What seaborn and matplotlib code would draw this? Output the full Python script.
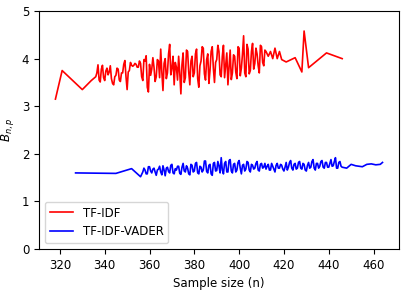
import pandas as pd
import matplotlib
matplotlib.use("Agg")
import matplotlib.pyplot as plt
import seaborn as sns

# TF-IDF series
tfidf_n = [318, 321, 330, 334,
           336, 336.5, 337, 337.5, 338, 338.5, 339, 339.5, 340, 340.5,
           341, 341.5, 342, 342.5, 343, 343.5, 344, 344.5, 345, 345.5,
           346, 346.5, 347, 347.5, 348, 348.5, 349, 349.5, 350, 350.5,
           351, 351.5, 352, 352.5, 353, 353.5, 354, 354.5, 355, 355.5,
           356, 356.5, 357, 357.5, 358, 358.5, 359, 359.5, 360, 360.5,
           361, 361.5, 362, 362.5, 363, 363.5, 364, 364.5, 365, 365.5,
           366, 366.5, 367, 367.5, 368, 368.5, 369, 369.5, 370, 370.5,
           371, 371.5, 372, 372.5, 373, 373.5, 374, 374.5, 375, 375.5,
           376, 376.5, 377, 377.5, 378, 378.5, 379, 379.5, 380, 380.5,
           381, 381.5, 382, 382.5, 383, 383.5, 384, 384.5, 385, 385.5,
           386, 386.5, 387, 387.5, 388, 388.5, 389, 389.5, 390, 390.5,
           391, 391.5, 392, 392.5, 393, 393.5, 394, 394.5, 395, 395.5,
           396, 396.5, 397, 397.5, 398, 398.5, 399, 399.5, 400, 400.5,
           401, 401.5, 402, 402.5, 403, 403.5, 404, 404.5, 405, 405.5,
           406, 406.5, 407, 407.5, 408, 408.5, 409, 409.5, 410, 410.5,
           411, 411.5, 412,
           413, 414, 415, 416, 417, 418, 419, 421, 425, 428, 429, 431, 439, 446]
tfidf_b = [3.15, 3.75, 3.35, 3.54,
           3.62, 3.70, 3.87, 3.55, 3.51, 3.78, 3.86, 3.60, 3.54, 3.74,
           3.80, 3.66, 3.72, 3.85, 3.58, 3.48, 3.45, 3.62, 3.65, 3.80,
           3.78, 3.55, 3.52, 3.70, 3.70, 3.88, 3.96, 3.62, 3.35, 3.72,
           3.75, 3.92, 3.86, 3.84, 3.86, 3.90, 3.88, 3.82, 3.82, 3.95,
           3.90, 3.62, 3.54, 3.98, 3.95, 4.06, 3.40, 3.30, 3.88, 3.65,
           3.78, 4.02, 3.82, 3.52, 3.62, 3.98, 3.95, 3.60, 4.20, 3.72,
           3.33, 3.90, 4.00, 3.58, 3.70, 4.10, 4.30, 3.66, 3.80, 4.05,
           3.45, 3.92, 3.82, 3.55, 4.05, 3.70, 3.26, 3.88, 4.12, 3.50,
           3.60, 4.18, 4.15, 3.72, 3.45, 3.95, 4.05, 3.62, 3.70, 4.10,
           4.20, 3.58, 3.40, 3.85, 3.95, 4.25, 4.22, 3.68, 3.55, 3.98,
           4.10, 3.48, 3.75, 4.15, 4.25, 3.80, 3.50, 3.92, 3.98, 4.28,
           4.15, 3.66, 3.62, 4.05, 4.28, 3.60, 3.85, 4.12, 3.45, 3.82,
           4.18, 3.56, 3.70, 4.08, 4.05, 3.72, 3.58, 4.25, 4.22, 3.64,
           3.80, 4.10, 4.48, 3.70, 3.62, 4.30, 4.20, 3.68, 3.75, 4.15,
           4.32, 3.78, 3.90, 4.22, 4.10, 3.85, 3.70, 4.28, 4.25, 3.92,
           3.85, 4.18, 4.15,
           4.05, 4.15, 4.00, 4.22, 4.00, 4.15, 3.98, 3.93, 4.02, 3.72, 4.58, 3.81, 4.12, 4.00]

# TF-IDF-VADER series
vader_n = [327, 345, 352, 356,
           357, 357.5, 358, 358.5, 359, 359.5, 360, 360.5, 361, 361.5,
           362, 362.5, 363, 363.5, 364, 364.5, 365, 365.5, 366, 366.5,
           367, 367.5, 368, 368.5, 369, 369.5, 370, 370.5, 371, 371.5,
           372, 372.5, 373, 373.5, 374, 374.5, 375, 375.5, 376, 376.5,
           377, 377.5, 378, 378.5, 379, 379.5, 380, 380.5, 381, 381.5,
           382, 382.5, 383, 383.5, 384, 384.5, 385, 385.5, 386, 386.5,
           387, 387.5, 388, 388.5, 389, 389.5, 390, 390.5, 391, 391.5,
           392, 392.5, 393, 393.5, 394, 394.5, 395, 395.5, 396, 396.5,
           397, 397.5, 398, 398.5, 399, 399.5, 400, 400.5, 401, 401.5,
           402, 402.5, 403, 403.5, 404, 404.5, 405, 405.5, 406, 406.5,
           407, 407.5, 408, 408.5, 409, 409.5, 410, 410.5, 411, 411.5,
           412, 412.5, 413, 413.5, 414, 414.5, 415, 415.5, 416, 416.5,
           417, 417.5, 418, 418.5, 419, 419.5, 420, 420.5, 421, 421.5,
           422, 422.5, 423, 423.5, 424, 424.5, 425, 425.5, 426, 426.5,
           427, 427.5, 428, 428.5, 429, 429.5, 430, 430.5, 431, 431.5,
           432, 432.5, 433, 433.5, 434, 434.5, 435, 435.5, 436, 436.5,
           437, 437.5, 438, 438.5, 439, 439.5, 440, 440.5, 441, 441.5,
           442, 442.5, 443, 443.5, 444, 444.5, 445, 445.5, 446,
           448, 450, 452, 455, 457, 459, 461, 463, 464]
vader_b = [1.60, 1.59, 1.69, 1.52,
           1.62, 1.70, 1.66, 1.58, 1.58, 1.73, 1.73, 1.64, 1.60, 1.68,
           1.70, 1.62, 1.55, 1.66, 1.68, 1.74, 1.62, 1.56, 1.75, 1.66,
           1.54, 1.70, 1.72, 1.63, 1.60, 1.76, 1.78, 1.60, 1.58, 1.69,
           1.66, 1.74, 1.74, 1.59, 1.57, 1.72, 1.80, 1.64, 1.62, 1.75,
           1.70, 1.58, 1.56, 1.78, 1.76, 1.62, 1.64, 1.80, 1.82, 1.60,
           1.58, 1.74, 1.72, 1.62, 1.66, 1.85, 1.85, 1.63, 1.60, 1.76,
           1.78, 1.58, 1.55, 1.80, 1.82, 1.64, 1.65, 1.84, 1.75, 1.60,
           1.92, 1.66, 1.58, 1.80, 1.84, 1.62, 1.62, 1.86, 1.88, 1.64,
           1.60, 1.78, 1.80, 1.62, 1.66, 1.82, 1.86, 1.70, 1.58, 1.76,
           1.78, 1.64, 1.68, 1.84, 1.82, 1.66, 1.62, 1.78, 1.76, 1.68,
           1.70, 1.80, 1.84, 1.66, 1.64, 1.78, 1.80, 1.70, 1.72, 1.80,
           1.68, 1.74, 1.78, 1.66, 1.66, 1.80, 1.74, 1.68, 1.62, 1.76,
           1.80, 1.70, 1.70, 1.78, 1.76, 1.68, 1.64, 1.72, 1.82, 1.66,
           1.72, 1.82, 1.86, 1.70, 1.66, 1.78, 1.80, 1.68, 1.70, 1.82,
           1.84, 1.70, 1.68, 1.80, 1.78, 1.66, 1.64, 1.76, 1.82, 1.70,
           1.72, 1.84, 1.88, 1.70, 1.66, 1.80, 1.80, 1.70, 1.74, 1.84,
           1.86, 1.72, 1.70, 1.82, 1.82, 1.72, 1.72, 1.80, 1.88, 1.74,
           1.75, 1.84, 1.92, 1.70, 1.70, 1.82, 1.84, 1.74, 1.72,
           1.70, 1.78, 1.75, 1.73, 1.78, 1.79, 1.77, 1.78, 1.82]

df_tfidf = pd.DataFrame({"n": tfidf_n, "B": tfidf_b})
df_vader = pd.DataFrame({"n": vader_n, "B": vader_b})

plt.rcParams["font.size"] = 8.5
fig, ax = plt.subplots(figsize=(4.07, 2.9), dpi=100)
fig.subplots_adjust(left=0.096, right=0.98, top=0.962, bottom=0.141)

sns.lineplot(x="n", y="B", data=df_tfidf, color="red", label="TF-IDF",
             estimator=None, sort=False, linewidth=1.2, ax=ax)
sns.lineplot(x="n", y="B", data=df_vader, color="blue", label="TF-IDF-VADER",
             estimator=None, sort=False, linewidth=1.2, ax=ax)

ax.set_ylim(0, 5)
ax.set_xticks([320, 340, 360, 380, 400, 420, 440, 460])
ax.set_xlabel("Sample size (n)")
ax.set_ylabel("$B_{n,p}$")
ax.legend(loc="lower left")

plt.savefig("out.png", dpi=100)
